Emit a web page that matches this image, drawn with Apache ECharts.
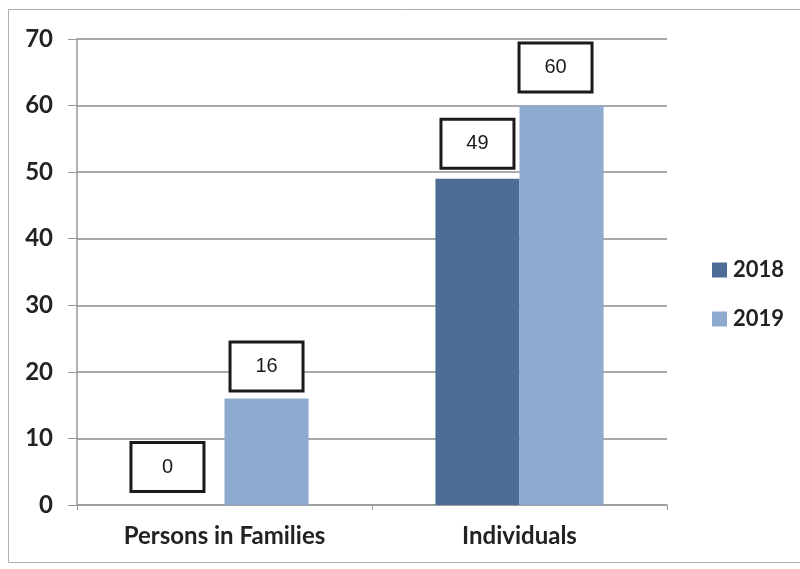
<!DOCTYPE html>
<html>
<head>
<meta charset="utf-8">
<script src="https://cdn.jsdelivr.net/npm/echarts@6/dist/echarts.min.js"></script>
<style>
  html, body { margin: 0; padding: 0; background: #ffffff; }
  #chart { width: 800px; height: 569px; }
</style>
</head>
<body>
<div id="chart"></div>
<script>
// Categories, series and axis ticks
const categories = ['Persons in Families', 'Individuals'];
const seriesNames = ['2018', '2019'];
const values2018 = [0, 49];
const values2019 = [16, 60];
const yTicks = [0, 10, 20, 30, 40, 50, 60, 70];

const colors = ['#4e6d96', '#8eaacf'];
const labelFont = '"Liberation Sans", Arial, sans-serif';
const axisFont = 'Lato, "Open Sans", sans-serif';

// Nudges [dx, dy] for the boxed labels, per series and category
const labelShift = [[[-15, -6], [0, -3]], [[0, 0], [-6, -6]]];

const chart = echarts.init(document.getElementById('chart'));

// Boxed value label shown above each bar
function boxedLabel(shift) {
  return {
    show: true,
    position: 'top',
    distance: 32,
    offset: shift,
    color: '#1a1a1a',
    fontFamily: labelFont,
    fontSize: 20,
    backgroundColor: '#ffffff',
    borderColor: '#1a1a1a',
    borderWidth: 3,
    width: 66,
    height: 46,
    lineHeight: 46,
    align: 'center',
    verticalAlign: 'middle',
    padding: [0, 2],
    formatter: p => String(p.value)
  };
}

const allValues = [values2018, values2019];

chart.setOption({
  animation: false,
  backgroundColor: '#ffffff',
  graphic: [{
    type: 'rect',
    shape: { x: 8.5, y: 9.5, width: 800, height: 553 },
    style: { fill: 'none', stroke: '#b0b0b0', lineWidth: 1 },
    silent: true
  }],
  grid: { left: 77, right: 133, top: 39, bottom: 64 },
  legend: {
    orient: 'vertical',
    left: 707,
    top: 254,
    itemWidth: 15,
    itemHeight: 15,
    itemGap: 27,
    icon: 'rect',
    textStyle: {
      fontFamily: axisFont,
      fontSize: 22,
      fontWeight: 'bold',
      color: '#222',
      padding: [0, 0, 0, 1]
    },
    data: seriesNames
  },
  xAxis: {
    type: 'category',
    data: categories,
    axisLine: { lineStyle: { color: '#999', width: 1.5 } },
    axisTick: { show: true, length: 5, lineStyle: { color: '#999' } },
    axisLabel: {
      fontFamily: axisFont,
      fontSize: 24,
      fontWeight: 'bold',
      color: '#222',
      margin: 19
    }
  },
  yAxis: {
    type: 'value',
    min: yTicks[0],
    max: yTicks[yTicks.length - 1],
    interval: 10,
    axisLine: { show: true, lineStyle: { color: '#999', width: 1.5 } },
    axisTick: { show: true, length: 9, lineStyle: { color: '#999' } },
    axisLabel: {
      fontFamily: axisFont,
      fontSize: 24,
      fontWeight: 'bold',
      color: '#222',
      margin: 24
    },
    splitLine: { lineStyle: { color: '#8e8e8e', width: 1.5 } }
  },
  series: seriesNames.map((name, i) => ({
    name: name,
    type: 'bar',
    data: allValues[i].map((v, j) => ({
      value: v,
      label: boxedLabel(labelShift[i][j])
    })),
    barGap: '0%',
    barCategoryGap: '43%',
    itemStyle: { color: colors[i] }
  }))
});
</script>
</body>
</html>
